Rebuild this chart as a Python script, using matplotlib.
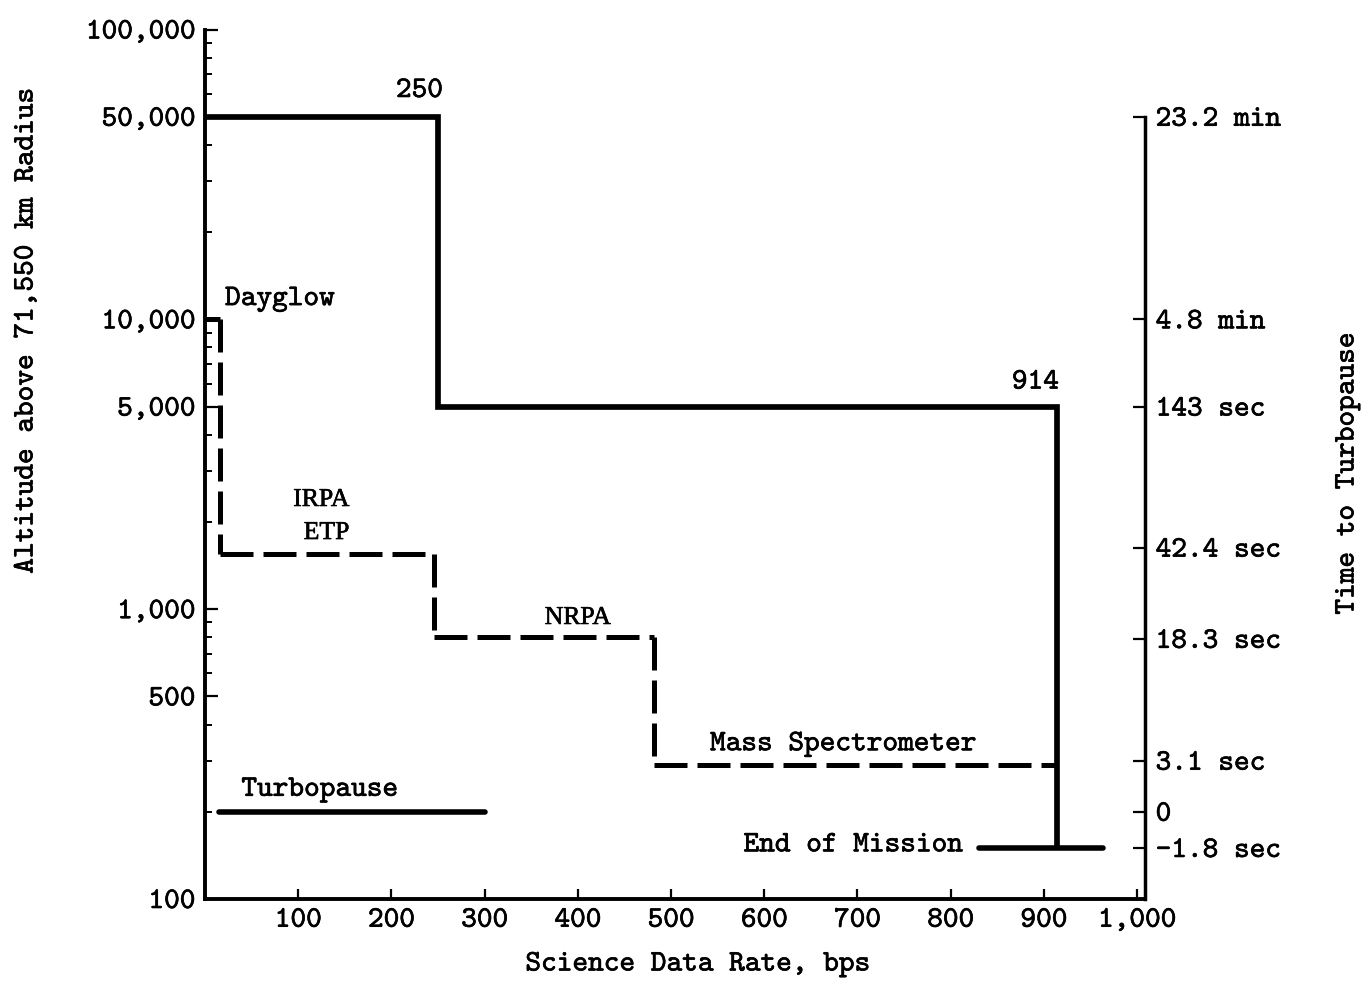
import matplotlib
matplotlib.use("Agg")
import matplotlib.pyplot as plt
import matplotlib.patheffects as pe
from matplotlib.text import Text
from matplotlib.ticker import FixedLocator, NullLocator, FuncFormatter, NullFormatter

# ---- data -------------------------------------------------------------
# Total science data rate (bps) and the altitude (km) where it applies
total_rate = [250, 914]
total_alt = [50000, 5000]
end_of_mission_alt = 150

# Instrument data rates (cumulative, bps) and altitude where each starts
instr_names = ["Dayglow", "IRPA\nETP", "NRPA", "Mass Spectrometer"]
instr_rate = [16, 246, 482, 914]
instr_alt = [10000, 1550, 800, 290]

turbopause_alt = 200
turbopause_rate_span = [15, 300]
end_rate_span = [830, 964]

alt_ticks = [100, 500, 1000, 5000, 10000, 50000, 100000]
alt_minor = [200, 300, 400, 600, 700, 800, 900,
             2000, 3000, 4000, 6000, 7000, 8000, 9000,
             20000, 30000, 40000, 60000, 70000, 80000, 90000]
rate_ticks = [100, 200, 300, 400, 500, 600, 700, 800, 900, 1000]
rate_labels = ["100", "200", "300", "400", "500", "600", "700", "800", "900", "1,000"]

time_alt = [50000, 10000, 5000, 1630, 790, 300, 200, 150]
time_labels = ["23.2 min", "4.8 min", "143 sec", "42.4 sec",
               "18.3 sec", "3.1 sec", "0", "-1.8 sec"]

# ---- style ------------------------------------------------------------
plt.rcParams["font.family"] = ["cmtt10", "DejaVu Sans Mono"]
plt.rcParams["axes.unicode_minus"] = False
FS = 21.5
SERIF = "Liberation Serif"

fig = plt.figure(figsize=(13.72, 9.85), dpi=100)
W, H = 1372, 985
left_px, right_px, bottom_px, top_px = 205, 1144.5, 899, 29.5
ax = fig.add_axes([left_px / W, 1 - bottom_px / H,
                   (right_px - left_px) / W, (bottom_px - top_px) / H])
ax.set_yscale("log")
ax.set_xlim(0, 1008)
ax.set_ylim(100, 100000)

for s in ("top", "right"):
    ax.spines[s].set_visible(False)
for s in ("left", "bottom"):
    ax.spines[s].set_linewidth(2.8)

ax.yaxis.set_major_locator(FixedLocator(alt_ticks))
ax.yaxis.set_minor_locator(FixedLocator(alt_minor))
ax.yaxis.set_major_formatter(FuncFormatter(lambda v, p: f"{v:,.0f}"))
ax.yaxis.set_minor_formatter(NullFormatter())
ax.tick_params(axis="y", which="major", direction="in", length=9, width=1.6,
               labelsize=FS, pad=7)
ax.tick_params(axis="y", which="minor", direction="in", length=5, width=1.4)

ax.xaxis.set_major_locator(FixedLocator(rate_ticks))
ax.set_xticklabels(rate_labels)
ax.xaxis.set_minor_locator(NullLocator())
ax.tick_params(axis="x", direction="in", length=7, width=1.6,
               labelsize=FS, pad=7)

# ---- total data rate (solid step) -------------------------------------
sx, sy = [0], [total_alt[0]]
for i, (r, a) in enumerate(zip(total_rate, total_alt)):
    nxt = total_alt[i + 1] if i + 1 < len(total_alt) else end_of_mission_alt
    sx += [r, r]
    sy += [a, nxt]
ax.plot(sx, sy, color="black", lw=4.1, solid_joinstyle="miter",
        solid_capstyle="butt", clip_on=False)

# ---- instrument data rates (dashed step) ------------------------------
dx, dy = [0], [instr_alt[0]]
for i in range(len(instr_rate) - 1):
    dx += [instr_rate[i], instr_rate[i]]
    dy += [instr_alt[i], instr_alt[i + 1]]
dx.append(instr_rate[-1])
dy.append(instr_alt[-1])
for k in range(len(dx) - 1):
    ax.plot(dx[k:k + 2], dy[k:k + 2], color="black", lw=3.6,
            dashes=(6.6, 2.0), dash_capstyle="butt", clip_on=False)

# ---- turbopause and end of mission ------------------------------------
ax.plot(turbopause_rate_span, [turbopause_alt] * 2, color="black", lw=4.0,
        solid_capstyle="round")
ax.plot(end_rate_span, [end_of_mission_alt] * 2, color="black", lw=4.0,
        solid_capstyle="round")

# ---- annotations ------------------------------------------------------
ax.text(230, 58500, str(total_rate[0]), fontsize=FS, ha="center", va="baseline")
ax.text(916, 5770, str(total_rate[1]), fontsize=FS, ha="right", va="baseline")
ax.text(21.5, 11200, instr_names[0], fontsize=FS, ha="left", va="baseline")
irpa, etp = instr_names[1].split("\n")
ax.text(155, 2270, irpa, fontsize=18.5, family=SERIF, ha="right", va="baseline")
ax.text(155, 1746, etp, fontsize=18.5, family=SERIF, ha="right", va="baseline")
ax.text(400, 889, instr_names[2], fontsize=18.5, family=SERIF,
        ha="center", va="baseline")
ax.text(828, 326, instr_names[3], fontsize=FS, ha="right", va="baseline")
ax.text(39, 227, "Turbopause", fontsize=FS, ha="left", va="baseline")
ax.text(813, 146, "End of Mission", fontsize=FS, ha="right", va="baseline")

# ---- time-to-turbopause axis ------------------------------------------
tax = ax.twinx()
tax.set_yscale("log")
tax.set_ylim(ax.get_ylim())
for s in ("top", "left", "bottom"):
    tax.spines[s].set_visible(False)
tax.spines["right"].set_linewidth(2.5)
tax.spines["right"].set_bounds(100, time_alt[0])
tax.yaxis.set_major_locator(FixedLocator(time_alt))
tax.set_yticklabels(time_labels)
tax.yaxis.set_minor_locator(NullLocator())
tax.tick_params(axis="y", which="major", direction="in", length=9, width=1.6,
                labelsize=FS, pad=8)

# ---- axis titles ------------------------------------------------------
fig.text(27 / W, 1 - 331 / H, "Altitude above 71,550 km Radius",
         rotation=90, ha="center", va="center", fontsize=FS)
fig.text(1348 / W, 1 - 473.5 / H, "Time to Turbopause",
         rotation=90, ha="center", va="center", fontsize=FS)
fig.text(698 / W, 1 - 965 / H, "Science Data Rate, bps",
         ha="center", va="center", fontsize=FS)

# typewriter-weight strokes for all lettering
fig.canvas.draw()
for t in fig.findobj(Text):
    if t.get_text():
        t.set_path_effects([pe.withStroke(linewidth=0.45, foreground="black")])

fig.savefig("out.png", dpi=100, facecolor="white")
